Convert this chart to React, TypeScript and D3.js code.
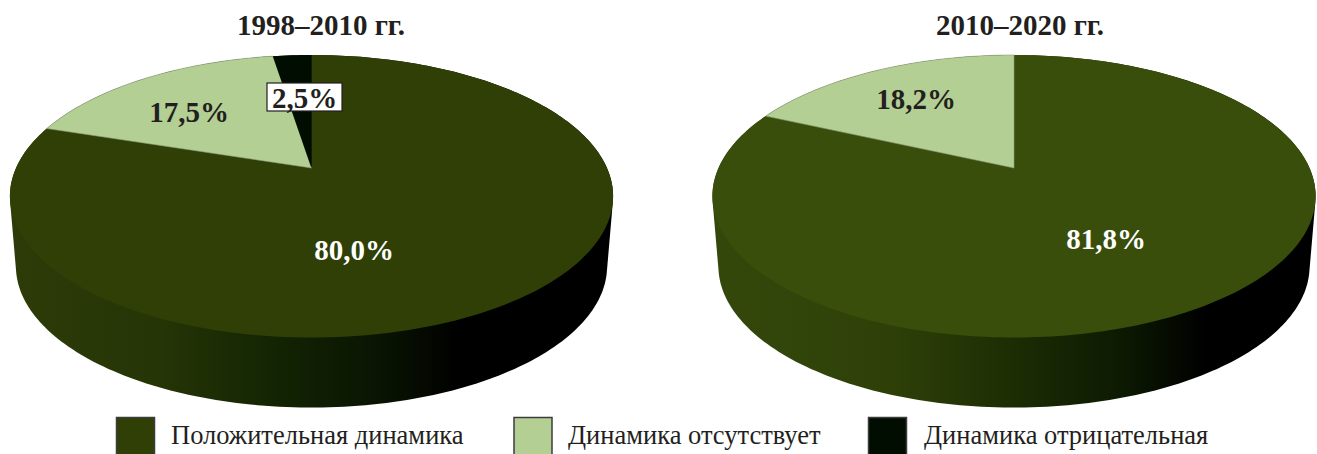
import React from "react";
import * as d3 from "d3";

// Share of observations per period, clockwise from twelve o'clock.
const categories = ["Положительная динамика", "Динамика отсутствует", "Динамика отрицательная"];
const leftValues = [80.0, 17.5, 2.5];
const rightValues = [81.8, 18.2, 0];
const leftLabels = ["80,0%", "17,5%", "2,5%"];
const rightLabels = ["81,8%", "18,2%", ""];
const titles = ["1998–2010 гг.", "2010–2020 гг."];
const colors = ["#2f3f06", "#b3cf94", "#020d02"];
const serif = "'Liberation Serif', 'Times New Roman', serif";

// Tilted disc: a unit circle seen in perspective, far edge compressed.
const K = -0.2;
const A = 135.6;
const B = 295.5;
const APEX_Y = 168;
const DEPTH = 70;
const BASE_SCALE = 0.98;

const project = (cx: number, theta: number, scale = 1, dy = 0): [number, number] => {
  const X = Math.sin(theta);
  const Y = -Math.cos(theta);
  const d = 1 + K * Y;
  return [cx + (scale * B * X) / d, APEX_Y + dy + (A * Y) / d];
};

const rim = (a0: number, a1: number) => {
  const n = Math.max(2, Math.ceil(Math.abs(a1 - a0) / 0.02));
  return d3.range(n + 1).map((i) => a0 + ((a1 - a0) * i) / n);
};

const line = d3.line<[number, number]>();
const pie = d3.pie<number>().sort(null).value((d) => d);

function Disc({ cx, values, top, stops, id }: { cx: number; values: number[]; top: string; stops: [number, string][]; id: string }) {
  const arcs = pie(values);
  const all = rim(0, Math.PI * 2);
  const hull = d3.polygonHull([
    ...all.map((t) => project(cx, t)),
    ...all.map((t) => project(cx, t, BASE_SCALE, DEPTH)),
  ])!;
  const fills = [top, colors[1], colors[2]];
  return (
    <g>
      <defs>
        <linearGradient id={id} gradientUnits="userSpaceOnUse" x1={cx - 300} x2={cx + 300} y1={0} y2={0}>
          {stops.map(([o, c]) => (
            <stop key={o} offset={o} stopColor={c} />
          ))}
        </linearGradient>
      </defs>
      <path d={line(hull)! + "Z"} fill={`url(#${id})`} />
      {arcs.map((a, i) =>
        a.value > 0 ? (
          <path
            key={i}
            d={line([[cx, APEX_Y], ...rim(a.startAngle, a.endAngle).map((t) => project(cx, t))])! + "Z"}
            fill={fills[i]}
            stroke={i === 1 ? "#8f9f80" : "none"}
            strokeWidth={i === 1 ? 0.6 : 0}
          />
        ) : null
      )}
    </g>
  );
}

const labelStyle = { fontFamily: serif, fontWeight: 700, fontSize: 29, textAnchor: "middle" as const };

export default function App() {
  const legendX = [116.5, 514, 868.5];
  const legendTextX = [171, 568, 924];
  return (
    <svg width={1317} height={454} style={{ position: "absolute", left: 0, top: 0, background: "#fff" }}>
      <Disc
        cx={311.5}
        values={leftValues}
        top={colors[0]}
        id="sideA"
        stops={[[0, "#2d3b08"], [0.25, "#263506"], [0.42, "#142603"], [0.6, "#0a1602"], [0.75, "#000"], [1, "#000"]]}
      />
      <Disc
        cx={1014}
        values={rightValues}
        top="#3a4e0b"
        id="sideB"
        stops={[[0, "#34480b"], [0.3, "#2e4008"], [0.5, "#1c2d04"], [0.68, "#0c1a02"], [0.82, "#000"], [1, "#000"]]}
      />

      <text x={321} y={35} style={labelStyle} fill="#231f20">{titles[0]}</text>
      <text x={1020} y={35} style={labelStyle} fill="#231f20">{titles[1]}</text>

      <text x={354} y={260} style={labelStyle} fill="#fff">{leftLabels[0]}</text>
      <text x={189} y={122} style={labelStyle} fill="#231f20">{leftLabels[1]}</text>
      <rect x={267} y={83} width={75} height={28} fill="#fff" stroke="#231f20" strokeWidth={1.2} />
      <text x={304.5} y={107.5} style={labelStyle} fill="#231f20">{leftLabels[2]}</text>

      <text x={1106} y={249} style={labelStyle} fill="#fff">{rightLabels[0]}</text>
      <text x={916} y={109} style={labelStyle} fill="#231f20">{rightLabels[1]}</text>

      {categories.map((c, i) => (
        <g key={c}>
          <rect x={legendX[i]} y={417.5} width={38} height={40} fill={colors[i]} stroke="#3c3c3c" strokeWidth={1.5} />
          <text x={legendTextX[i]} y={443.5} style={{ fontFamily: serif, fontSize: 26.5 }} fill="#231f20">{c}</text>
        </g>
      ))}
    </svg>
  );
}
